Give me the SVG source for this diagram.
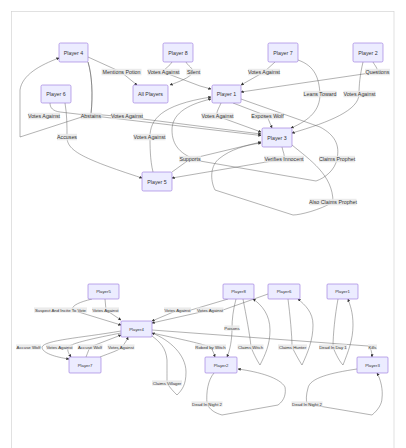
<svg xmlns="http://www.w3.org/2000/svg" width="406" height="448" viewBox="0 0 406 448">
<defs>
<marker id="arr" viewBox="0 0 10 10" refX="9" refY="5" markerWidth="3" markerHeight="3" markerUnits="userSpaceOnUse" orient="auto"><path d="M0,0 L10,5 L0,10 z" fill="#333"/></marker>
<style>
.n rect{fill:#ECECFF;stroke:#9370DB;stroke-width:0.6}
.n text{font-family:"Liberation Sans","DejaVu Sans",sans-serif;fill:#333;text-anchor:middle;dominant-baseline:central}
.up text{font-size:5.3px}
.lo text{font-size:4.3px}
.e path{fill:none;stroke:#555;stroke-width:0.45;marker-end:url(#arr)}
.l rect{fill:#e8e8e8;opacity:0.85}
.l text{font-family:"Liberation Sans","DejaVu Sans",sans-serif;fill:#333;text-anchor:middle;dominant-baseline:central}
</style>
</defs>
<rect x="11.5" y="11.5" width="382.5" height="450" fill="#fff" stroke="#d4d4d4" stroke-width="0.7"/>
<g id="connectors" class="e">
<path d="M88,57 L121,72 L137,85"/>
<path d="M172,62 C170,66 165,68 163,72 L200,86 L211,89"/>
<path d="M186,62 C188,66 193,68 193,72 C190,78 178,82 170,85"/>
<path d="M275,62 L264,72 L241,85"/>
<path d="M373,62 C375,66 378,68 377,72 L241,92"/>
<path d="M298,60 C315,66 319,78 320,94 C320,110 310,120 291,128"/>
<path d="M363,62 C360,75 359,85 359,94 C359,110 330,122 292,133"/>
<path d="M88,62 C92,75 93,95 91,114 L20,137 L20,90 C22,75 40,65 59,58"/>
<path d="M88,62 C92,75 93,95 91,114 L127,117 L261,134"/>
<path d="M50,103 C50,108 53,111 60,112 L261,135.5"/>
<path d="M65,103 C67,115 67,125 67,137 C67,150 80,158 142,178"/>
<path d="M153,172 C150,160 150,145 150,137 C150,120 160,105 211,97"/>
<path d="M221,103 C219,108 216,112 217,116 L261,132"/>
<path d="M233,103 L267,116 L272,128"/>
<path d="M172,172 L190,159 L261,142"/>
<path d="M282,147 C283,152 285,155 284,159 L172,178"/>
<path d="M241,99 L320,127 C335,135 340,145 337,159 C335,170 325,178 316,181 L200,161 C180,155 172,145 172,130 C172,115 185,105 211,99"/>
<path d="M292,145 C310,160 333,175 333,202 C320,210 300,215 293,215 L215,190 C210,180 210,165 220,158 C230,150 245,145 261,143"/>
<path d="M92,299 C80,302 72,305 72,310 L121,325"/>
<path d="M105,299 L106,310 L121,320"/>
<path d="M228,299 L191,310 L178,310 L152,321"/>
<path d="M268,294 L223,310 L210,310 L152,323"/>
<path d="M121,331 C80,338 45,340 42,347 C42,353 55,357 69,359"/>
<path d="M121,333 C95,338 72,343 68,347 C67,351 69,354 71,357"/>
<path d="M86,357 C88,352 89,349 90,347 L121,335"/>
<path d="M100,357 C110,353 120,350 122,347 C125,343 127,340 128,337"/>
<path d="M152,330 L368,346 C371,348 372,352 372,357"/>
<path d="M236,299 C233,310 232,320 232,328 C232,340 230,350 227,357"/>
<path d="M152,333 C175,338 200,343 210,347 C213,350 214,354 215,357"/>
<path d="M243,299 C246,315 250,335 251,347 C254,355 258,362 260,365 C265,355 270,345 270,330 C270,315 262,305 253,299"/>
<path d="M288,299 C290,315 292,335 292,347 C296,355 300,362 302,365 C308,352 313,340 313,325 C313,312 305,305 298,299"/>
<path d="M338,299 C335,315 333,335 333,347 C336,355 340,362 343,365 C348,352 353,340 353,325 C353,312 350,305 348,299"/>
<path d="M152,336 C160,342 166,348 167,360 C167,370 167,378 167,383 C170,388 174,392 177,395 C182,390 186,385 186,372 C186,355 170,340 152,333"/>
<path d="M214,373 C208,380 206,392 207,404 C210,410 215,413 222,415 L278,405 C285,400 286,393 285,387 C280,378 260,372 238,369"/>
<path d="M357,369 C330,373 310,378 308,388 C306,395 306,400 307,404 L372,415 C378,410 382,404 382,398 C383,390 381,380 377,373"/>
</g>
<g id="labels" class="l">
<g class="up">
<rect x="101.5" y="68.8" width="40" height="6.5"/><text x="121.5" y="72">Mentions Potion</text>
<rect x="147.5" y="68.8" width="32" height="6.5"/><text x="163.5" y="72">Votes Against</text>
<rect x="186.2" y="68.8" width="14.5" height="6.5"/><text x="193.5" y="72">Silent</text>
<rect x="248" y="68.8" width="32" height="6.5"/><text x="264" y="72">Votes Against</text>
<rect x="365" y="68.8" width="25" height="6.5"/><text x="377.5" y="72">Questions</text>
<rect x="303.5" y="90.8" width="33" height="6.5"/><text x="320" y="94">Leans Toward</text>
<rect x="343.5" y="90.8" width="32" height="6.5"/><text x="359.5" y="94">Votes Against</text>
<rect x="28" y="112.8" width="32" height="6.5"/><text x="44" y="116">Votes Against</text>
<rect x="80.5" y="112.8" width="21" height="6.5"/><text x="91" y="116">Abstains</text>
<rect x="111" y="112.8" width="32" height="6.5"/><text x="127" y="116">Votes Against</text>
<rect x="201.5" y="112.8" width="32" height="6.5"/><text x="217.5" y="116">Votes Against</text>
<rect x="251.5" y="112.8" width="32" height="6.5"/><text x="267.5" y="116">Exposes Wolf</text>
<rect x="57" y="133.8" width="20" height="6.5"/><text x="67" y="137">Accuses</text>
<rect x="133.5" y="133.8" width="32" height="6.5"/><text x="149.5" y="137">Votes Against</text>
<rect x="179" y="155.8" width="22" height="6.5"/><text x="190" y="159">Supports</text>
<rect x="264" y="155.8" width="40" height="6.5"/><text x="284" y="159">Verifies Innocent</text>
<rect x="319" y="155.8" width="36" height="6.5"/><text x="337" y="159">Claims Prophet</text>
<rect x="309.5" y="198.8" width="47" height="6.5"/><text x="333" y="202">Also Claims Prophet</text>
</g>
<g class="lo">
<rect x="34" y="307.4" width="53" height="5.2"/><text x="60.5" y="310">Suspect And Incite To Vote</text>
<rect x="92" y="307.4" width="27" height="5.2"/><text x="105.5" y="310">Votes Against</text>
<rect x="164" y="307.4" width="27" height="5.2"/><text x="177.5" y="310">Votes Against</text>
<rect x="196.5" y="307.4" width="27" height="5.2"/><text x="210" y="310">Votes Against</text>
<rect x="16" y="344.4" width="25" height="5.2"/><text x="28.5" y="347">Accuse Wolf</text>
<rect x="46" y="344.4" width="27" height="5.2"/><text x="59.5" y="347">Votes Against</text>
<rect x="77.5" y="344.4" width="25" height="5.2"/><text x="90" y="347">Accuse Wolf</text>
<rect x="107.5" y="344.4" width="27" height="5.2"/><text x="121" y="347">Votes Against</text>
<rect x="224.5" y="325.4" width="15" height="5.2"/><text x="232" y="328">Poisons</text>
<rect x="195" y="344.4" width="31" height="5.2"/><text x="210.5" y="347">Robed by Witch</text>
<rect x="237.5" y="344.4" width="26" height="5.2"/><text x="250.5" y="347">Claims Witch</text>
<rect x="278" y="344.4" width="29" height="5.2"/><text x="292.5" y="347">Claims Hunter</text>
<rect x="319" y="344.4" width="28" height="5.2"/><text x="333" y="347">Dead In Day 1</text>
<rect x="368" y="344.4" width="9" height="5.2"/><text x="372.5" y="347">Kills</text>
<rect x="152" y="380.4" width="30" height="5.2"/><text x="167" y="383">Claims Villager</text>
<rect x="191.5" y="401.4" width="31" height="5.2"/><text x="207" y="404">Dead In Night 2</text>
<rect x="291.5" y="401.4" width="31" height="5.2"/><text x="307" y="404">Dead In Night 2</text>
</g>
</g>
<g class="n up">
<g id="u-player4"><rect x="59" y="43" width="29" height="19" rx="1.5"/><text x="73.5" y="52.5">Player 4</text></g>
<g id="u-player8"><rect x="163" y="43" width="30" height="19" rx="1.5"/><text x="178" y="52.5">Player 8</text></g>
<g id="u-player7"><rect x="268" y="43" width="30" height="19" rx="1.5"/><text x="283" y="52.5">Player 7</text></g>
<g id="u-player2"><rect x="353" y="43" width="30" height="19" rx="1.5"/><text x="368" y="52.5">Player 2</text></g>
<g id="u-player6"><rect x="41" y="85" width="30" height="18" rx="1.5"/><text x="56" y="94">Player 6</text></g>
<g id="u-allplayers"><rect x="133" y="85" width="35" height="18" rx="1.5"/><text x="150.5" y="94">All Players</text></g>
<g id="u-player1"><rect x="212" y="85" width="29" height="18" rx="1.5"/><text x="226.5" y="94">Player 1</text></g>
<g id="u-player3"><rect x="262" y="128" width="30" height="19" rx="1.5"/><text x="277" y="137.5">Player 3</text></g>
<g id="u-player5"><rect x="142" y="172" width="30" height="19" rx="1.5"/><text x="157" y="181.5">Player 5</text></g>
</g>
<g class="n lo">
<g id="l-player5"><rect x="88" y="284" width="31" height="15" rx="1"/><text x="103.5" y="291.5">Player5</text></g>
<g id="l-player8"><rect x="223" y="284" width="31" height="15" rx="1"/><text x="238.5" y="291.5">Player8</text></g>
<g id="l-player6"><rect x="268" y="284" width="32" height="15" rx="1"/><text x="284" y="291.5">Player6</text></g>
<g id="l-player1"><rect x="327" y="284" width="31" height="15" rx="1"/><text x="342.5" y="291.5">Player1</text></g>
<g id="l-player4"><rect x="121" y="321" width="31" height="16" rx="1"/><text x="136.5" y="329">Player4</text></g>
<g id="l-player7"><rect x="69" y="357" width="32" height="16" rx="1"/><text x="85" y="365">Player7</text></g>
<g id="l-player2"><rect x="205" y="357" width="32" height="16" rx="1"/><text x="221" y="365">Player2</text></g>
<g id="l-player3"><rect x="357" y="357" width="31" height="16" rx="1"/><text x="372.5" y="365">Player3</text></g>
</g>
</svg>
